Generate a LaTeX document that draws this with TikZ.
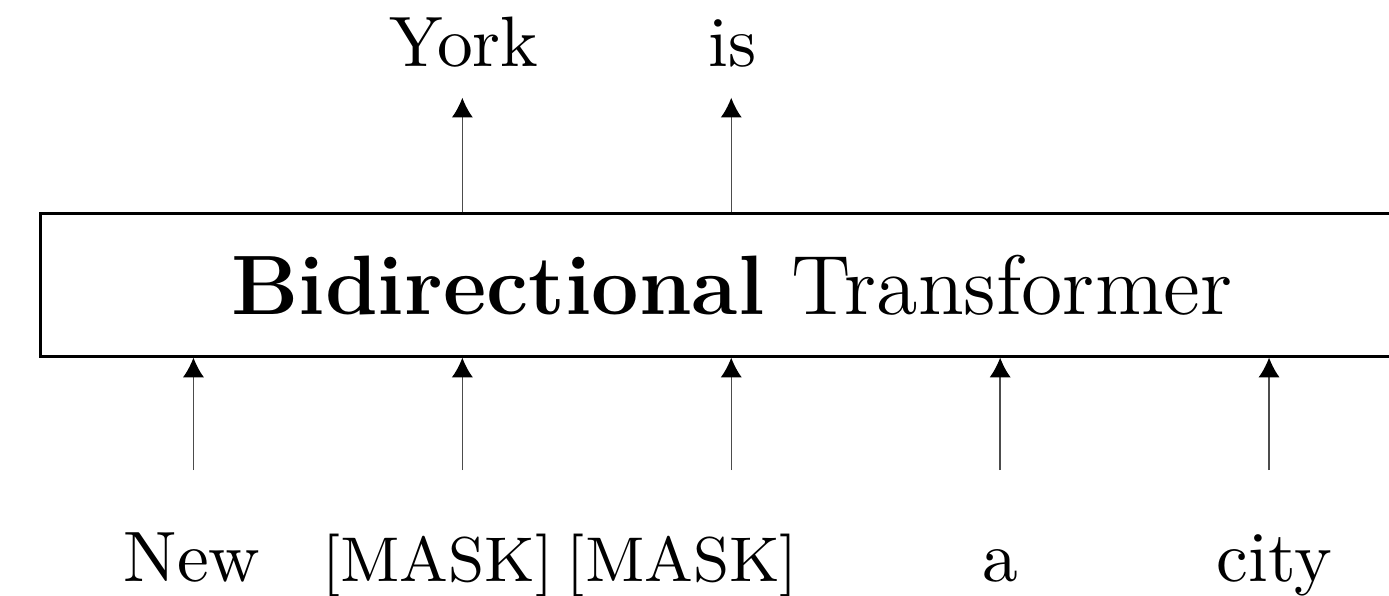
\documentclass[tikz,border=0pt]{standalone}
\usepackage{tikz}
\usetikzlibrary{arrows.meta}
\usetikzlibrary{positioning}

\tikzset{
  encoder/.style = {draw, line width=0.45pt, inner sep=0pt,
                    minimum width=7.15cm, minimum height=0.735cm,
                    font=\fontsize{12.4}{15}\selectfont},
  tok/.style     = {line width=0.2pt, black!70,
                    -{Latex[length=2.9pt,width=3.1pt,color=black]}},
  word/.style    = {anchor=base, inner sep=0pt, font=\fontsize{10.5}{12}\selectfont},
  mask/.style    = {word, font=\fontsize{9.3}{11}\selectfont}
}

\begin{document}
\begin{tikzpicture}
  \clip (0,0) rectangle (7.18,3.08);

  % the encoder block
  \node[encoder] (tf) at (3.784,1.607) {\textbf{Bidirectional} Transformer};

  % input tokens
  \node[word] (w1) at (0.993,0.072) {New};
  \node[mask] (w2) at (2.262,0.072) {[MASK]};
  \node[mask] (w3) at (3.528,0.072) {[MASK]};
  \node[word] (w4) at (5.173,0.072) {a};
  \node[word] (w5) at (6.587,0.072) {city};

  % predicted tokens
  \node[word] (y2) at (2.399,2.735) {York};
  \node[word] (y3) at (3.787,2.735) {is};

  \foreach \i/\x in {1/1.00,2/2.39,3/3.78,4/5.17,5/6.56}
  {
    \coordinate (in\i) at (\x,0.65);
    \draw[tok] (in\i) -- (in\i |- tf.south);
  }
  \foreach \i/\x in {2/2.39,3/3.78}
  {
    \coordinate (out\i) at (\x,2.575);
    \draw[tok] (out\i |- tf.north) -- (out\i);
  }
\end{tikzpicture}
\end{document}
